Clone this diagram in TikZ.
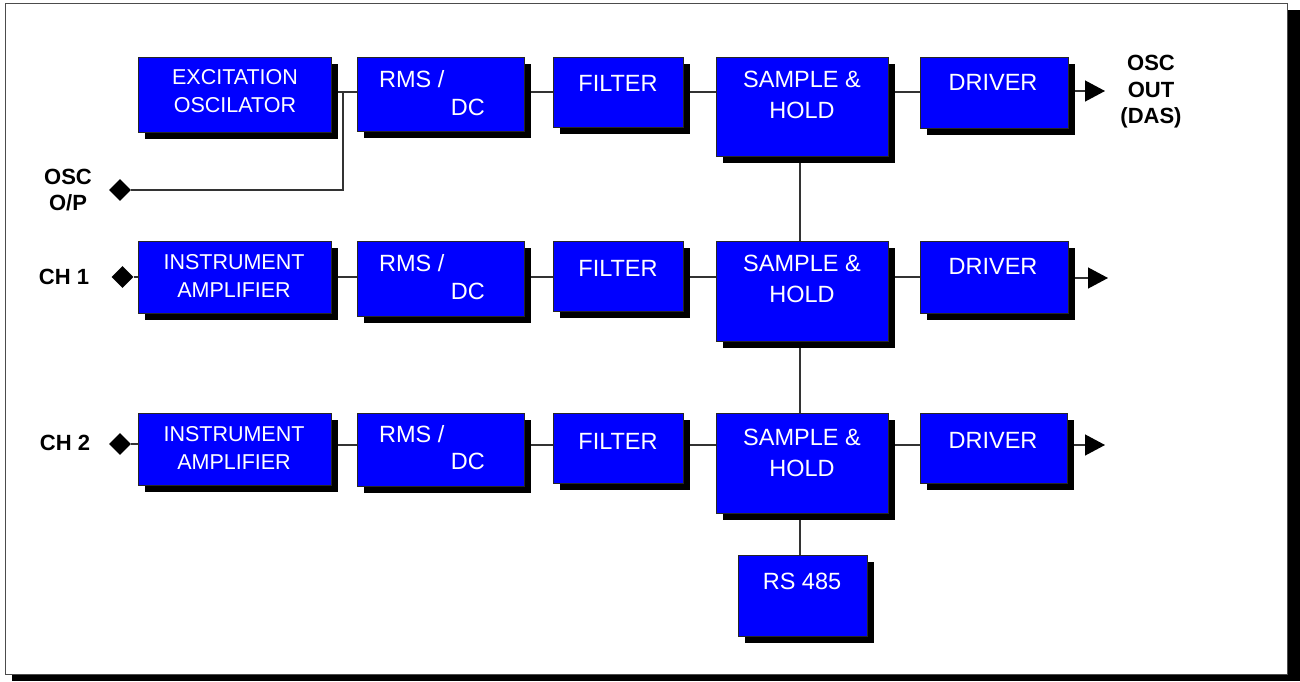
\documentclass[tikz,border=0pt]{standalone}
\usepackage{fontspec}
\setmainfont{Liberation Sans}
\usetikzlibrary{shapes.geometric,arrows.meta,shadows}
\pgfdeclarelayer{bottom}
\pgfdeclarelayer{background}
\pgfsetlayers{bottom,background,main}
\begin{document}
\begin{tikzpicture}[x=1pt,y=-1pt,
  box/.style={draw=black!85, line width=0.9pt, fill=blue, inner sep=0pt, outer sep=0pt, anchor=north west,
    drop shadow={shadow xshift=7pt, shadow yshift=-7pt, opacity=1, fill=black}},
  btxt/.style={text=white, font=\fontsize{23.5}{31}\selectfont, align=center, inner sep=0pt},
  stxt/.style={text=white, font=\fontsize{21.5}{28}\selectfont, align=center, inner sep=0pt},
  lbl/.style={font=\bfseries\fontsize{22}{26.5}\selectfont, align=center, inner sep=0pt},
  wire/.style={draw=black!80, line width=1.3pt},
  pin/.style={diamond, fill=black, minimum size=22pt, inner sep=0pt},
  arr/.style={wire, -{Triangle[length=20pt,width=21pt,color=black,fill=black]}}]
\useasboundingbox (0,0) rectangle (1300,681);
% frame
\begin{pgfonlayer}{bottom}
\fill[black] (12,10) rectangle (1300,681);
\draw[fill=white, draw=black!70, line width=1pt] (5,3) rectangle (1287,674);
\end{pgfonlayer}

% boxes row A
\node[box, minimum width=193pt, minimum height=75pt] (exc) at (138,57) {};
\node[box, minimum width=167pt, minimum height=74pt] (rmsA) at (357,57) {};
\node[box, minimum width=130pt, minimum height=70pt] (filA) at (553,57) {};
\node[box, minimum width=172pt, minimum height=99pt] (shA) at (716,57) {};
\node[box, minimum width=148pt, minimum height=71pt] (drvA) at (920,57) {};
% row B
\node[box, minimum width=193pt, minimum height=72pt] (insB) at (138,241) {};
\node[box, minimum width=167pt, minimum height=75pt] (rmsB) at (357,241) {};
\node[box, minimum width=130pt, minimum height=70pt] (filB) at (553,241) {};
\node[box, minimum width=172pt, minimum height=100pt] (shB) at (716,241) {};
\node[box, minimum width=148pt, minimum height=72pt] (drvB) at (920,241) {};
% row C
\node[box, minimum width=193pt, minimum height=72pt] (insC) at (138,413) {};
\node[box, minimum width=167pt, minimum height=73pt] (rmsC) at (357,413) {};
\node[box, minimum width=130pt, minimum height=70pt] (filC) at (553,413) {};
\node[box, minimum width=172pt, minimum height=100pt] (shC) at (716,413) {};
\node[box, minimum width=147pt, minimum height=70pt] (drvC) at (920,413) {};
\node[box, minimum width=129pt, minimum height=81pt] (rs) at (738,555) {};

% texts
\node[stxt] (excT) at (235,91) {EXCITATION\\OSCILATOR};
\node[btxt, anchor=west] (rmsA1) at (379,79) {RMS /};
\node[btxt, anchor=east] (rmsA2) at (485,107) {DC};
\node[btxt] (filAT) at (618,83) {FILTER};
\node[btxt] (shAT) at (802,94.5) {SAMPLE \&\\HOLD};
\node[btxt] (drvAT) at (993,82) {DRIVER};

\node[stxt] (insBT) at (234,276) {INSTRUMENT\\AMPLIFIER};
\node[btxt, anchor=west] (rmsB1) at (379,263) {RMS /};
\node[btxt, anchor=east] (rmsB2) at (485,291) {DC};
\node[btxt] (filBT) at (618,268) {FILTER};
\node[btxt] (shBT) at (802,278.5) {SAMPLE \&\\HOLD};
\node[btxt] (drvBT) at (993,266) {DRIVER};

\node[stxt] (insCT) at (234,448) {INSTRUMENT\\AMPLIFIER};
\node[btxt, anchor=west] (rmsC1) at (379,434) {RMS /};
\node[btxt, anchor=east] (rmsC2) at (485,461) {DC};
\node[btxt] (filCT) at (618,441) {FILTER};
\node[btxt] (shCT) at (802,452.5) {SAMPLE \&\\HOLD};
\node[btxt] (drvCT) at (993,440) {DRIVER};
\node[btxt] (rsT) at (802,581) {RS 485};

% labels
\node[lbl] (oscL) at (68,190) {OSC\\O/P};
\node[lbl] (ch1) at (64,277) {CH 1};
\node[lbl] (ch2) at (65,443) {CH 2};
\node[lbl] (oscout) at (1151,92) {OSC\\OUT\\(DAS)};

% pins
\node[pin] (p0) at (120,190) {};
\node[pin] (p1) at (122.5,277) {};
\node[pin] (p2) at (120,444) {};

% coordinates
\coordinate (ra) at (0,92);
\coordinate (rb) at (0,277);
\coordinate (rc) at (0,445);
\coordinate (jn) at (343,92);
\coordinate (vx) at (800,0);
\coordinate (tA) at (1105,91);
\coordinate (tB) at (1108,278);
\coordinate (tC) at (1105,445);

\begin{pgfonlayer}{background}
% row A
\draw[wire] (exc.east |- ra) -- (rmsA.west |- ra);
\draw[wire] (p0.east) -- (p0 -| jn) -- (jn);
\draw[wire] (rmsA.east |- ra) -- (filA.west |- ra);
\draw[wire] (filA.east |- ra) -- (shA.west |- ra);
\draw[wire] (shA.east |- ra) -- (drvA.west |- ra);
\draw[arr] (drvA.east |- tA) -- (tA);
% row B
\draw[wire] (p1.east) -- (insB.west |- p1);
\draw[wire] (insB.east |- rb) -- (rmsB.west |- rb);
\draw[wire] (rmsB.east |- rb) -- (filB.west |- rb);
\draw[wire] (filB.east |- rb) -- (shB.west |- rb);
\draw[wire] (shB.east |- rb) -- (drvB.west |- rb);
\draw[arr] (drvB.east |- tB) -- (tB);
% row C
\draw[wire] (p2.east) -- (insC.west |- p2);
\draw[wire] (insC.east |- rc) -- (rmsC.west |- rc);
\draw[wire] (rmsC.east |- rc) -- (filC.west |- rc);
\draw[wire] (filC.east |- rc) -- (shC.west |- rc);
\draw[wire] (shC.east |- rc) -- (drvC.west |- rc);
\draw[arr] (drvC.east |- tC) -- (tC);
% verticals
\draw[wire] (shA.south -| vx) -- (shB.north -| vx);
\draw[wire] (shB.south -| vx) -- (shC.north -| vx);
\draw[wire] (shC.south -| vx) -- (rs.north -| vx);
\end{pgfonlayer}
\end{tikzpicture}
\end{document}
